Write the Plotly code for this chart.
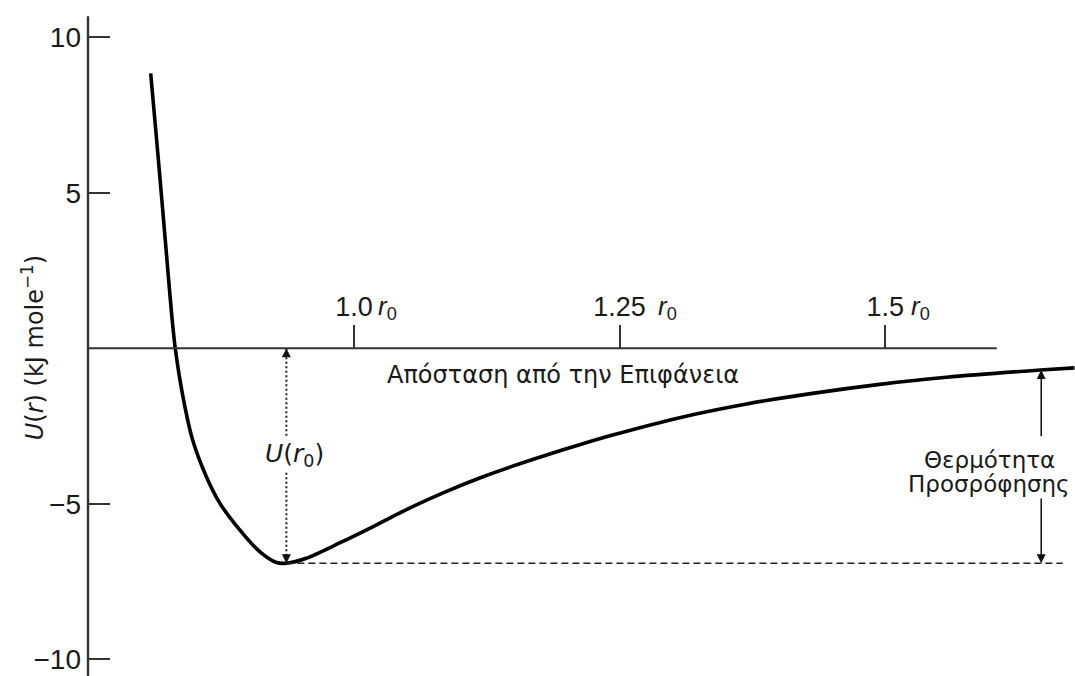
import numpy as np
import plotly.graph_objects as go

# ---- data ----
r = [0.8087, 0.8143, 0.8200, 0.8256, 0.8285, 0.8318, 0.8391, 0.8482, 0.8611,
     0.8736, 0.8925, 0.9113, 0.9270, 0.9364, 0.9552, 0.9865, 1.0176, 1.0336,
     1.0552, 1.0872, 1.1183, 1.1493, 1.1813, 1.2124, 1.2434, 1.3065, 1.3695,
     1.4316, 1.4947, 1.5577, 1.6461, 1.6781]
u = [8.84, 6.70, 4.45, 2.20, 1.07, 0.00, -1.56, -2.95, -4.13,
     -4.97, -5.84, -6.54, -6.89, -6.91, -6.75, -6.26, -5.74, -5.46,
     -5.09, -4.60, -4.17, -3.79, -3.43, -3.10, -2.79, -2.23, -1.79,
     -1.45, -1.16, -0.93, -0.70, -0.63]

y_tick_vals = [-10, -5, 5, 10]
y_tick_text = ["\u221210", "\u22125", "5", "10"]
x_tick_vals = [1.0, 1.25, 1.5]
x_tick_text = ["1.0", "1.25", "1.5"]
r0_shift = [22, 36, 24]          # pixel offset of the "r0" part of each x label

x_range = [0.7497, 1.6786]
y_range = [-10.537, 11.199]
x_axis_end = 1.605
y_axis_top = 10.68
r_heat = 1.6468                   # x of the heat-of-adsorption arrow
dash_end = 1.667

FONT = "Liberation Sans, Arial, Helvetica, sans-serif"
WIDE = "DejaVu Sans, Verdana, sans-serif"
INK = "#1a1a1a"

i_min = int(np.argmin(u))
r_min, u_min = r[i_min], u[i_min]
u_heat = float(np.interp(r_heat, r, u))

fig = go.Figure()

# potential curve
fig.add_trace(go.Scatter(x=r, y=u, mode="lines",
                         line=dict(color="#000000", width=3.6, shape="spline", smoothing=0.8),
                         hoverinfo="skip", showlegend=False))

# dashed line at the minimum
fig.add_trace(go.Scatter(x=[r_min, dash_end], y=[u_min, u_min], mode="lines",
                         line=dict(color="#222222", width=1.6, dash="7px,4px"),
                         hoverinfo="skip", showlegend=False))

# dotted U(r0) line (gap for the label)
gap_top, gap_bot = -2.83, -4.0
fig.add_trace(go.Scatter(x=[r_min, r_min, None, r_min, r_min],
                         y=[0, gap_top, None, gap_bot, u_min], mode="lines",
                         line=dict(color="#222222", width=2, dash="2px,2.5px"),
                         hoverinfo="skip", showlegend=False))

shapes = [
    dict(type="line", xref="x", yref="y", x0=x_range[0], x1=x_axis_end, y0=0, y1=0,
         line=dict(color="#333333", width=2)),
    dict(type="line", xref="paper", yref="y", x0=0, x1=0, y0=y_range[0], y1=y_axis_top,
         line=dict(color="#333333", width=2.4)),
]

ann = []
# arrowheads of the dotted arrow
ann.append(dict(x=r_min, y=0, ax=0, ay=9, xref="x", yref="y", showarrow=True,
                arrowhead=2, arrowsize=1.2, arrowwidth=1.5, arrowcolor="#111", text=""))
ann.append(dict(x=r_min, y=u_min, ax=0, ay=-9, xref="x", yref="y", showarrow=True,
                arrowhead=2, arrowsize=1.2, arrowwidth=1.5, arrowcolor="#111", text=""))
ann.append(dict(x=r_min, y=(gap_top + gap_bot) / 2, xref="x", yref="y", showarrow=False,
                xshift=8, text="<i>U</i>(<i>r</i><sub>0</sub>)",
                font=dict(family=WIDE, size=25, color=INK)))

# heat-of-adsorption arrows
ann.append(dict(x=r_heat, y=u_heat, ax=r_heat, ay=-2.88, axref="x", ayref="y",
                xref="x", yref="y", showarrow=True, arrowhead=2, arrowsize=1.2,
                arrowwidth=1.5, arrowcolor="#111", text=""))
ann.append(dict(x=r_heat, y=u_min, ax=r_heat, ay=-4.78, axref="x", ayref="y",
                xref="x", yref="y", showarrow=True, arrowhead=2, arrowsize=1.2,
                arrowwidth=1.5, arrowcolor="#111", text=""))
ann.append(dict(x=1.598, y=-3.58, xref="x", yref="y", showarrow=False,
                text="\u0398\u03b5\u03c1\u03bc\u03cc\u03c4\u03b7\u03c4\u03b1",
                font=dict(family=WIDE, size=23, color=INK)))
ann.append(dict(x=1.598, y=-4.36, xref="x", yref="y", showarrow=False,
                text="\u03a0\u03c1\u03bf\u03c3\u03c1\u03cc\u03c6\u03b7\u03c3\u03b7\u03c2",
                font=dict(family=WIDE, size=23, color=INK)))

# axis label under the r axis
ann.append(dict(x=1.1965, y=-0.87, xref="x", yref="y", showarrow=False,
                text="\u0391\u03c0\u03cc\u03c3\u03c4\u03b1\u03c3\u03b7 \u03b1\u03c0\u03cc \u03c4\u03b7\u03bd \u0395\u03c0\u03b9\u03c6\u03ac\u03bd\u03b5\u03b9\u03b1",
                font=dict(family=WIDE, size=24, color=INK)))

# r0 parts of the x tick labels
for xv, sh in zip(x_tick_vals, r0_shift):
    ann.append(dict(x=xv, y=0, xref="x", yref="y", showarrow=False,
                    xanchor="left", yanchor="bottom", xshift=sh, yshift=22,
                    text="<i>r</i><sub>0</sub>",
                    font=dict(family=FONT, size=26, color=INK)))

# y-axis title
ann.append(dict(x=0, y=0, xref="paper", yref="y", xshift=-73, showarrow=False,
                textangle=-90,
                text="<i>U</i>(<i>r</i>) (kJ mole<sup>\u22121</sup>)",
                font=dict(family=WIDE, size=24, color=INK)))

fig.update_layout(
    width=1075, height=676,
    margin=dict(l=88, r=0, t=0, b=0, pad=0),
    paper_bgcolor="white", plot_bgcolor="white",
    showlegend=False,
    shapes=shapes, annotations=ann,
    xaxis=dict(range=x_range, anchor="free", position=(0 - y_range[0]) / (y_range[1] - y_range[0]),
               side="top", showgrid=False, zeroline=False, showline=False,
               ticks="outside", ticklen=23, tickwidth=1.6, tickcolor="#333333",
               tickvals=x_tick_vals, ticktext=x_tick_text, ticklabelstandoff=-2,
               tickfont=dict(family=FONT, size=27, color=INK)),
    yaxis=dict(range=y_range, showgrid=False, zeroline=False, showline=False,
               ticks="inside", ticklen=22, tickwidth=1.6, tickcolor="#333333",
               tickvals=y_tick_vals, ticktext=y_tick_text, ticklabelstandoff=6,
               tickfont=dict(family=FONT, size=28, color=INK)),
)

fig.write_html("out.html")
